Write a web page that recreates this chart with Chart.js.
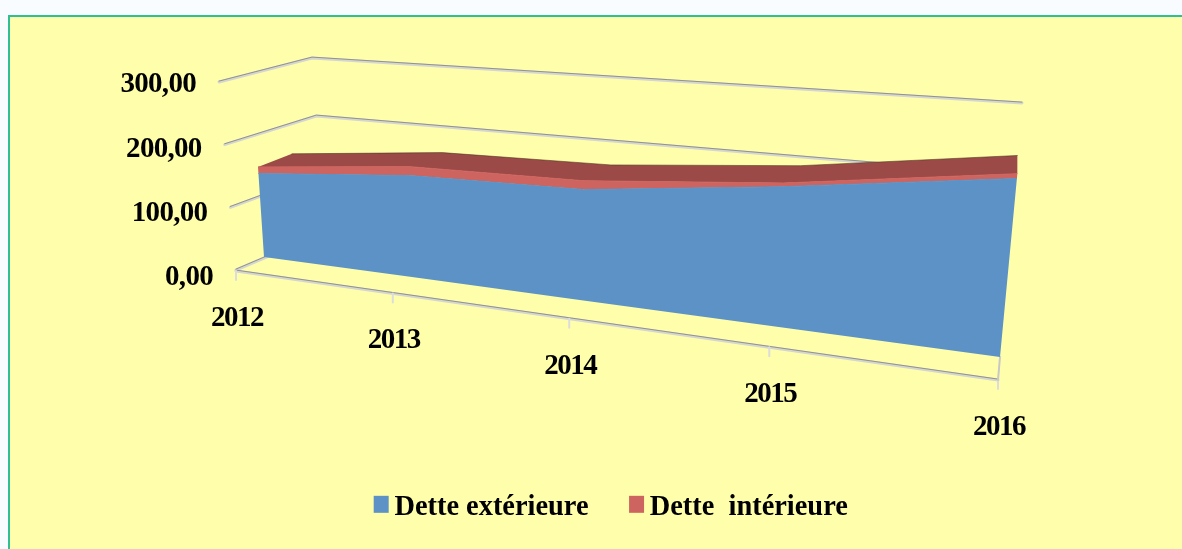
<!DOCTYPE html>
<html><head><meta charset="utf-8">
<style>
html,body{margin:0;padding:0;background:#f8fcff;width:1182px;height:549px;overflow:hidden}
#panel{position:absolute;left:8px;top:15px;width:1200px;height:560px;background:#ffffab;border:2px solid #2ebf95;box-sizing:border-box}
#wrap{position:absolute;left:0;top:0;width:1182px;height:549px}
</style>
<script src="https://cdn.jsdelivr.net/npm/chart.js@4/dist/chart.umd.min.js"></script>
</head><body>
<div id="panel"></div>
<div id="wrap"><canvas id="c" width="1182" height="549"></canvas></div>
<script>
const categories = ['2012','2013','2014','2015','2016'];
const detteExterieure = [142, 163, 167, 197, 233];
const detteInterieure = [11, 14, 13, 5, 6];
const yTicks = [0, 100, 200, 300];

// Projective view of the chart box (layout only: normalised scale position -> screen).
function quadMap(q){ // q: [p00,p10,p11,p01], (u,v) in unit square
  const [a,b,c,d]=q;
  const dx1=b[0]-c[0],dx2=d[0]-c[0],sx=a[0]-b[0]+c[0]-d[0];
  const dy1=b[1]-c[1],dy2=d[1]-c[1],sy=a[1]-b[1]+c[1]-d[1];
  const den=dx1*dy2-dx2*dy1;
  const g=(sx*dy2-dx2*sy)/den,h=(dx1*sy-sx*dy1)/den;
  const A=b[0]-a[0]+g*b[0],B=d[0]-a[0]+h*d[0],C=a[0];
  const D=b[1]-a[1]+g*b[1],E=d[1]-a[1]+h*d[1],F=a[1];
  return (u,v)=>{const w=g*u+h*v+1;return [(A*u+B*v+C)/w,(D*u+E*v+F)/w];};
}
const frontPlane = quadMap([[264,257],[1000,357],[1022,124.5],[252,77]]);
const backPlane  = quadMap([[296,241],[1000,326],[1022,110],[288,67]]);
const floorEdge  = quadMap([[236,271],[998,380],[1020,140],[219,82]]);
const sideFront = v=>[236+(219-236)*v,270+(82-270)*v];
const sideBack  = v=>[325+(312-325)*v,232+(58-232)*v];
const wallRight = v=>[1002+(1022-1002)*v,319+(103-319)*v];

function norm(chart,x,y){const a=chart.chartArea;return [(x-a.left)/(a.right-a.left),(a.bottom-y)/(a.bottom-a.top)];}
function stackTop(chart,i,idx){let s=0;for(let k=0;k<=i;k++)s+=chart.data.datasets[k].data[idx];return s;}

function legendSwatch(color){
  const cv=document.createElement('canvas');cv.width=40;cv.height=40;
  const g=cv.getContext('2d');g.fillStyle=color;g.fillRect(17,8,15,17);
  return cv;
}

const view3d = {
  id:'view3d',
  afterDatasetsUpdate(chart){
    chart.data.datasets.forEach((ds,i)=>{
      chart.getDatasetMeta(i).data.forEach((p,idx)=>{
        const y=chart.scales.y.getPixelForValue(stackTop(chart,i,idx));
        const [u,v]=norm(chart,chart.scales.x.getPixelForValue(idx),y);
        const q=frontPlane(u,v);
        p.x=q[0];p.y=q[1];p.$uv=[u,v];
      });
    });
  },
  beforeDraw(chart){
    const ctx=chart.ctx;
    const ys=chart.scales.y,xs=chart.scales.x;
    [[xs,'-1.5px'],[ys,'-0.7px']].forEach(([s,ls])=>{
      if(!s.$spaced){const d=s.drawLabels;s.$spaced=true;
        s.drawLabels=function(a){ctx.letterSpacing=ls;d.call(this,a);ctx.letterSpacing='0px';};}
    });
    ys.getLabelItems(chart.chartArea).forEach((it,i)=>{
      const v=norm(chart,0,ys.getPixelForValue(ys.ticks[i].value))[1];
      it.options.translation=[sideFront(v)[0]-23,it.options.translation[1]];
    });
    xs.getLabelItems(chart.chartArea).forEach((it,i)=>{
      const p=floorEdge(norm(chart,xs.getPixelForValue(i),0)[0],0);
      it.options.translation=[p[0]+1,p[1]+47.5];
      it.options.textBaseline='middle';it.options.textAlign='center';it.textOffset=0;
    });
  },
  beforeDatasetsDraw(chart){
    const ctx=chart.ctx,ys=chart.scales.y,xs=chart.scales.x;
    ctx.save();
    ctx.lineCap='round';
    // gridlines on side and back walls
    ys.ticks.forEach(t=>{
      const v=norm(chart,0,ys.getPixelForValue(t.value))[1];
      stroke(ctx,[sideFront(v),sideBack(v),wallRight(v)]);
    });
    // floor front edge + ticks
    const f0=floorEdge(0,0),f1=floorEdge(1,0);
    stroke(ctx,[f0,f1]);
    categories.forEach((_,i)=>{
      const p=floorEdge(norm(chart,xs.getPixelForValue(i),0)[0],0);
      ctx.strokeStyle='#dcdcdc';ctx.lineWidth=2;ctx.beginPath();ctx.moveTo(p[0],p[1]);ctx.lineTo(p[0],p[1]+9);ctx.stroke();
    });
    // floor right edge
    ctx.strokeStyle='#c8c8c8';ctx.lineWidth=2;ctx.beginPath();ctx.moveTo(f1[0],f1[1]);ctx.lineTo(1000,357);ctx.stroke();

    const ext=chart.getDatasetMeta(0).data, inn=chart.getDatasetMeta(1).data;
    const zero=norm(chart,0,ys.getPixelForValue(0))[1];
    const base=ext.map(p=>frontPlane(p.$uv[0],zero));
    const frontTop=inn.map(p=>[p.x,p.y]);
    const backTop=inn.map(p=>backPlane(p.$uv[0],p.$uv[1]));
    const extTop=ext.map(p=>[p.x,p.y]);
    // top surface of the stack
    poly(ctx,frontTop.concat(backTop.slice().reverse()),'#9c4a48');
    stroke2(ctx,backTop,'rgba(70,50,30,0.55)',1);
    // red front strip
    poly(ctx,extTop.concat(frontTop.slice().reverse()),'#cd6460');
    // blue front face
    poly(ctx,base.concat(extTop.slice().reverse()),'#5c92c6');
    ctx.restore();
  }
};
function stroke(ctx,pts){
  ctx.lineJoin='round';
  ctx.strokeStyle='#d6d6d0';ctx.lineWidth=3;path(ctx,pts,0);ctx.stroke();
  ctx.strokeStyle='#8a8a84';ctx.lineWidth=0.9;path(ctx,pts,0.9);ctx.stroke();
}
function stroke2(ctx,pts,c,w){ctx.strokeStyle=c;ctx.lineWidth=w;path(ctx,pts,0);ctx.stroke();}
function path(ctx,pts,dy){ctx.beginPath();pts.forEach((p,i)=>i?ctx.lineTo(p[0],p[1]-dy):ctx.moveTo(p[0],p[1]-dy));}
function poly(ctx,pts,c){ctx.fillStyle=c;path(ctx,pts,0);ctx.closePath();ctx.fill();}

const tickFont={family:'"Liberation Serif"',size:29,weight:'bold'};
new Chart(document.getElementById('c'),{
  type:'line',
  data:{labels:categories,datasets:[
    {label:'Dette extérieure',data:detteExterieure,backgroundColor:'#5c92c6',borderColor:'#5c92c6',borderWidth:1,pointRadius:0,fill:false,clip:false,tension:0},
    {label:'Dette  intérieure',data:detteInterieure,backgroundColor:'#cd6460',borderColor:'#cd6460',borderWidth:1,pointRadius:0,fill:false,clip:false,tension:0}
  ]},
  options:{
    responsive:false,animation:false,
    layout:{padding:{left:39,right:0,top:85,bottom:17}},
    scales:{
      x:{type:'category',offset:false,stacked:true,grid:{display:false},border:{display:false},
         ticks:{color:'#000',font:tickFont,maxRotation:0,autoSkip:false,padding:0},
         afterFit(s){s.height=176;}},
      y:{type:'linear',stacked:true,min:0,max:300,grid:{display:false},border:{display:false},
         afterBuildTicks(s){s.ticks=yTicks.map(v=>({value:v}));},
         ticks:{color:'#000',font:tickFont,callback:v=>v.toFixed(2).replace('.',','),padding:0},
         afterFit(s){s.width=180;}}
    },
    plugins:{
      tooltip:{enabled:false},
      legend:{position:'bottom',align:'center',
        labels:{color:'#000',font:{family:'"Liberation Serif"',size:28.4,weight:'bold'},boxWidth:7,boxHeight:17,padding:40,usePointStyle:true,
          generateLabels(chart){
            const items=Chart.defaults.plugins.legend.labels.generateLabels(chart);
            items.forEach(it=>{it.pointStyle=legendSwatch(it.fillStyle);});
            return items;
          }}}
    }
  },
  plugins:[view3d]
});
</script>
</body></html>
